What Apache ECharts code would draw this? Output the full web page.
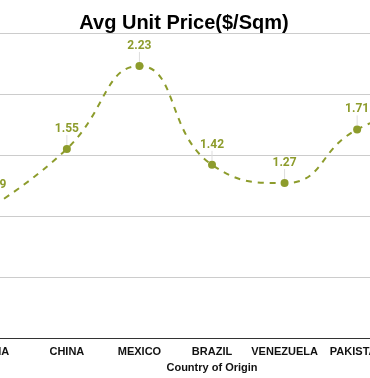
<!DOCTYPE html>
<html>
<head>
<meta charset="utf-8">
<script src="https://cdn.jsdelivr.net/npm/echarts@6/dist/echarts.min.js"></script>
<style>
html,body{margin:0;padding:0;background:#fff;width:370px;height:378px;overflow:hidden;position:relative;}
#c{position:absolute;left:-60px;top:0;width:570px;height:378px;}
</style>
</head>
<body>
<div id="c"></div>
<script>
const categories = ['INDIA', 'CHINA', 'MEXICO', 'BRAZIL', 'VENEZUELA', 'PAKISTAN', 'INDONESIA'];
const avgUnitPrice = [1.09, 1.55, 2.23, 1.42, 1.27, 1.71, 1.9];
const yTicks = { min: 0, max: 2.5, interval: 0.5 };

const olive = '#8d9c2c';
const offsetX = 60; // container starts 60px left of the viewport
const chart = echarts.init(document.getElementById('c'), null, { renderer: 'canvas' });
chart.setOption({
  animation: false,
  title: {
    text: 'Avg Unit Price($/Sqm)',
    left: offsetX + 179,
    textAlign: 'center',
    top: 8,
    textStyle: { fontFamily: 'Liberation Sans, Arial, sans-serif', fontSize: 20, fontWeight: 'bold', color: '#000' }
  },
  grid: { left: offsetX - 42, right: 570 - (offsetX + 466), top: 33, bottom: 37, containLabel: false },
  xAxis: {
    type: 'category',
    data: categories,
    boundaryGap: true,
    name: 'Country of Origin',
    nameLocation: 'middle',
    nameGap: 20,
    nameTextStyle: { fontFamily: 'Liberation Sans, Arial, sans-serif', fontSize: 11, fontWeight: 'bold', color: '#111' },
    axisLine: { lineStyle: { color: '#333', width: 1 } },
    axisTick: { show: false },
    axisLabel: { fontFamily: 'Liberation Sans, Arial, sans-serif', fontSize: 11, fontWeight: 'bold', color: '#111', margin: 8, interval: 0 }
  },
  yAxis: {
    type: 'value',
    min: yTicks.min, max: yTicks.max, interval: yTicks.interval,
    axisLabel: { show: false },
    axisLine: { show: false },
    axisTick: { show: false },
    splitLine: { lineStyle: { color: '#cccccc', width: 1 } }
  },
  series: [{
    type: 'line',
    data: avgUnitPrice,
    smooth: true,
    symbol: 'circle',
    symbolSize: 8,
    itemStyle: { color: olive },
    lineStyle: { color: olive, width: 2, type: [6, 6] },
    label: {
      show: true,
      position: 'top',
      distance: 5,
      formatter: p => p.value.toFixed(2),
      fontFamily: 'Roboto, sans-serif',
      fontSize: 12,
      fontWeight: 'bold',
      color: olive
    },
    labelLayout: { dy: -5 },
    labelLine: { show: true, lineStyle: { color: '#dddddd', width: 1 } }
  }]
});
</script>
</body>
</html>
